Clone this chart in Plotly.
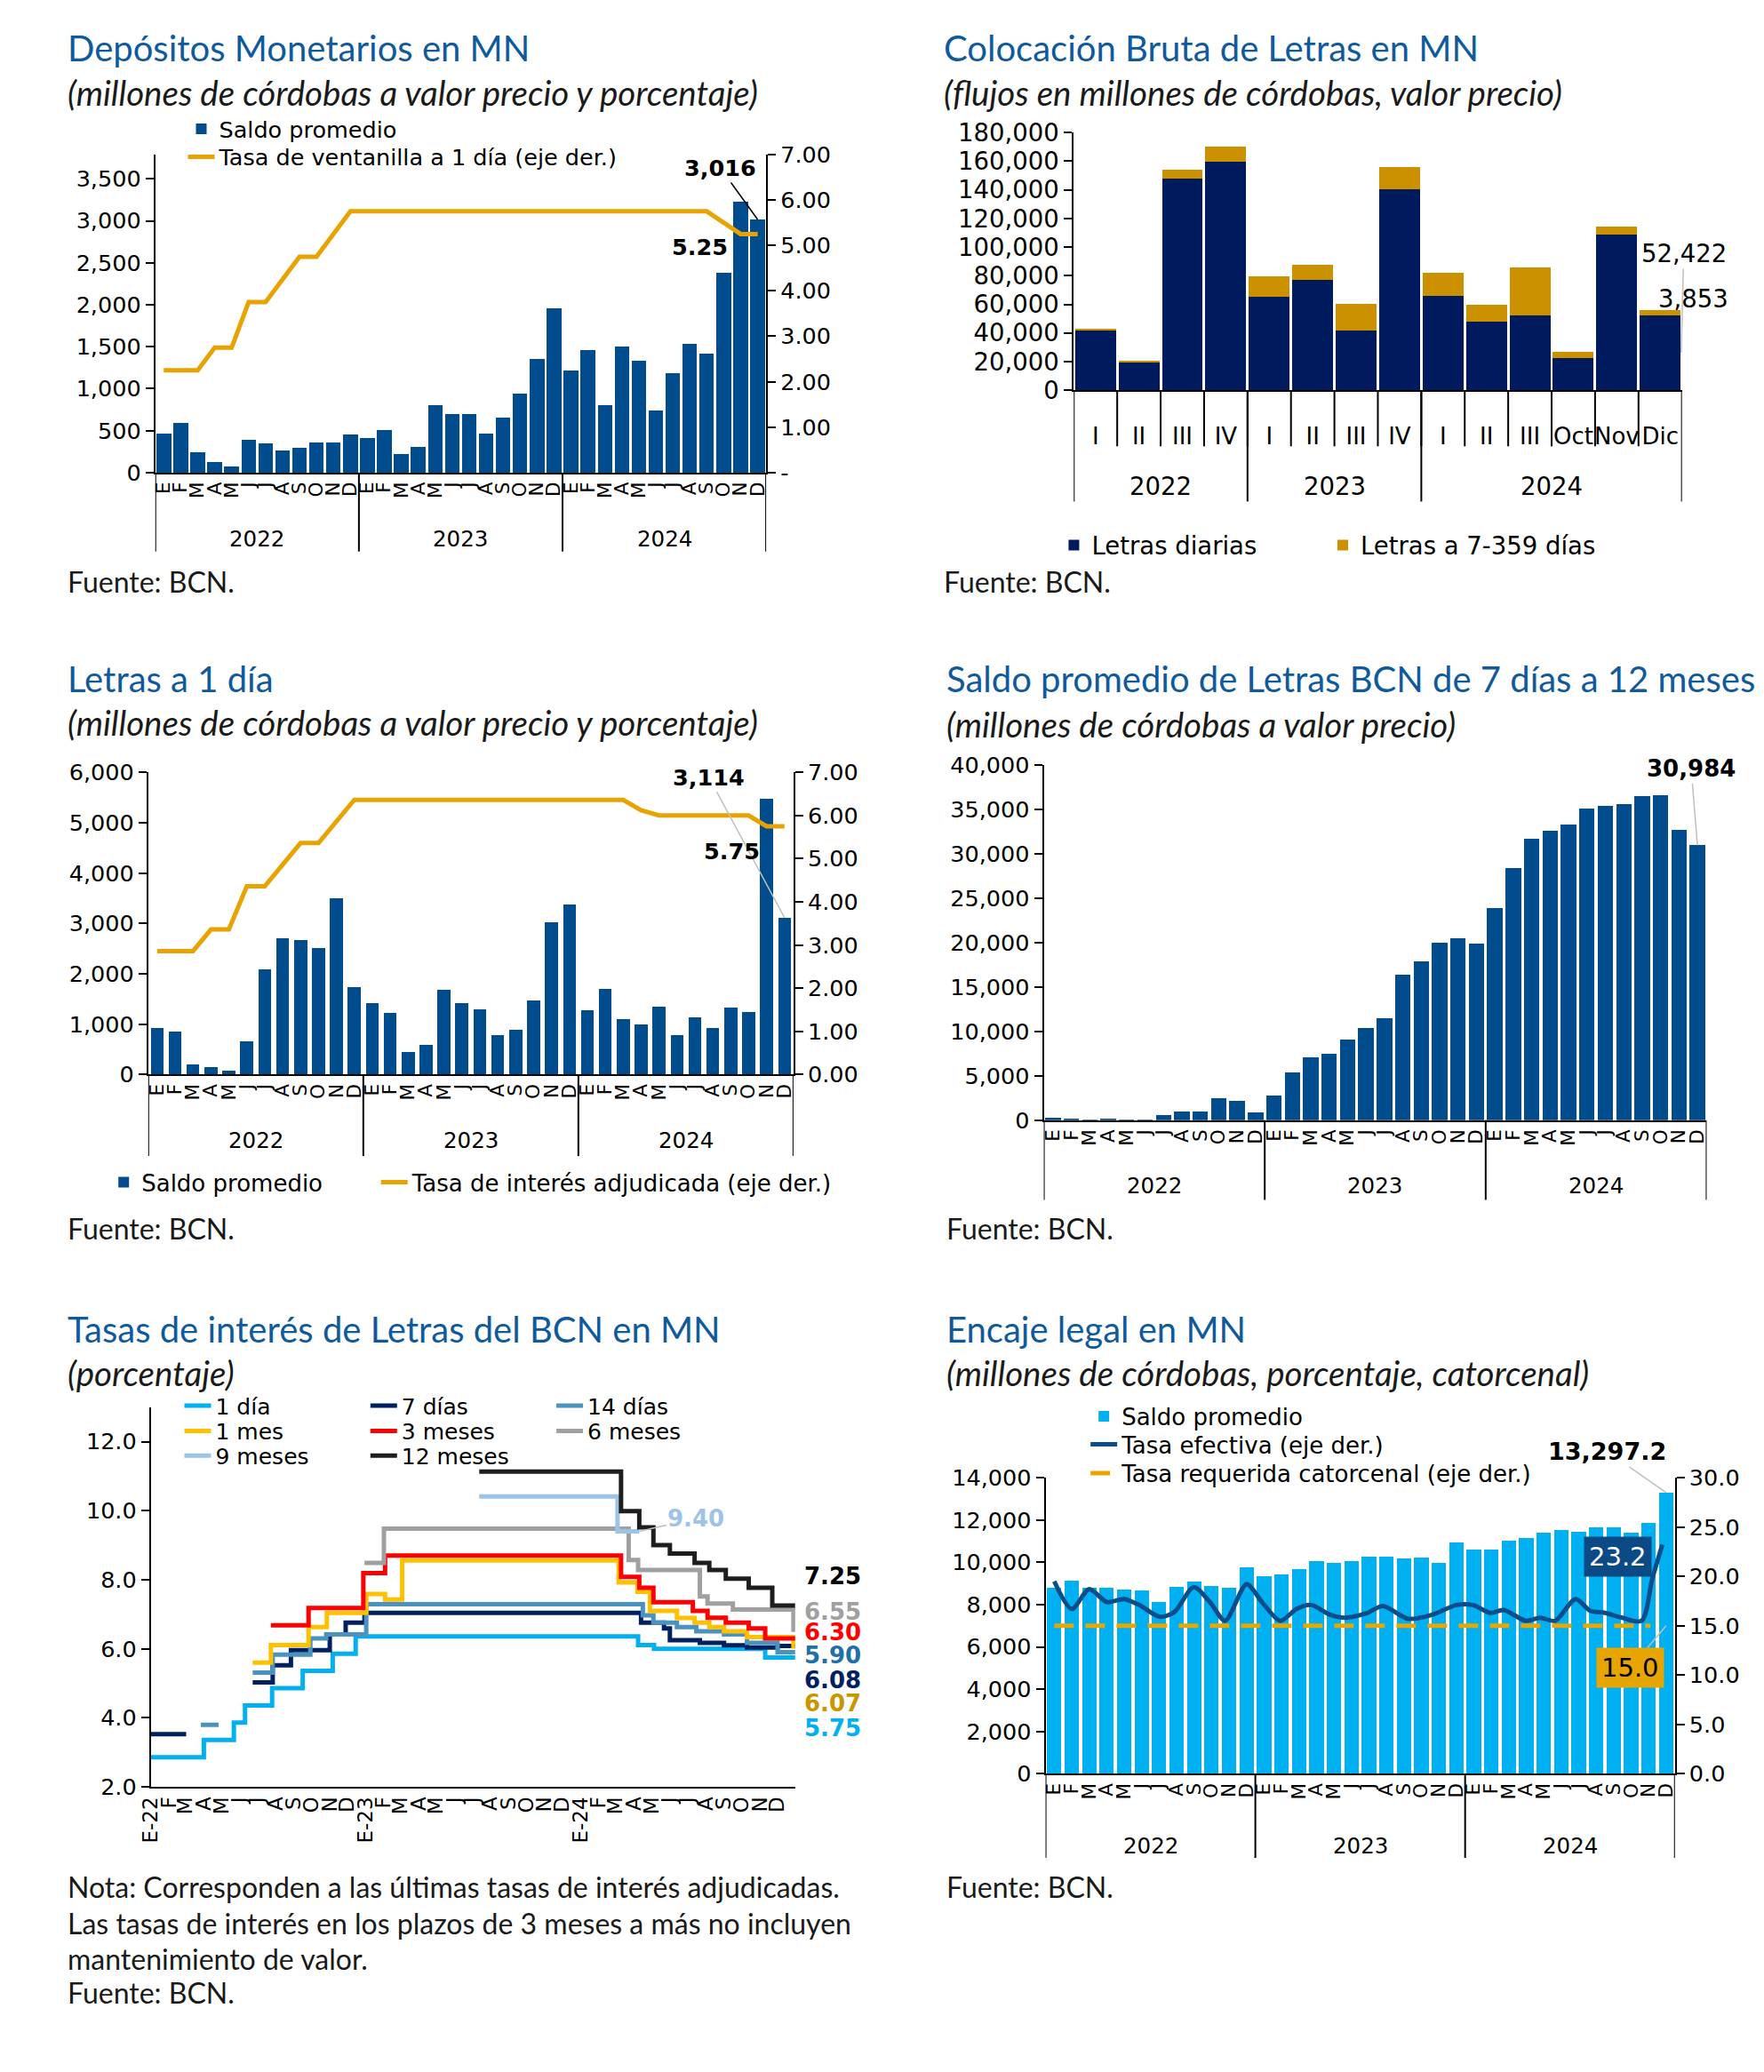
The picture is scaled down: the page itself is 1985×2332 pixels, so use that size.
import plotly.graph_objects as go

# page is 1985x2332; the default page body has an 8px margin
PW, PH, BM = 1985, 2332, 8
FW, FH = PW - 2 * BM, PH - 2 * BM


def X(px):
    return (px - BM) / FW


def Y(py):
    return 1 - (py - BM) / FH


TF = "Lato"          # titles / notes
NF = "DejaVu Sans"   # numbers, legends
TITLE_C = "#0F5A9C"

# ---------------- shared labels
MESES = ["E", "F", "M", "A", "M", "J", "J", "A", "S", "O", "N", "D"]
ANIOS = ["2022", "2023", "2024"]
MES_LBL = MESES * 3
MES_IDX = list(range(36))

# ---------------- Panel 1: Depósitos monetarios
dep_saldo = [469, 592, 239, 124, 75, 393, 345, 265, 292, 354, 354, 455,
             407, 508, 225, 305, 800, 698, 698, 469, 650, 942, 1353, 1958,
             1220, 1463, 800, 1499, 1335, 738, 1185, 1538, 1415, 2383, 3223, 3016]
dep_tasa = [2.25, 2.25, 2.25, 2.75, 2.75, 3.75, 3.75, 4.25, 4.75, 4.75, 5.25, 5.75,
            5.75, 5.75, 5.75, 5.75, 5.75, 5.75, 5.75, 5.75, 5.75, 5.75, 5.75, 5.75,
            5.75, 5.75, 5.75, 5.75, 5.75, 5.75, 5.75, 5.75, 5.75, 5.50, 5.25, 5.25]

# ---------------- Panel 2: Colocación bruta
col_lbl = ["I", "II", "III", "IV", "I", "II", "III", "IV", "I", "II", "III", "Oct", "Nov", "Dic"]
col_grupos = [4, 4, 6]
col_diarias = [41900, 19400, 148100, 159700, 65400, 77300, 41900, 140600,
               66200, 48100, 52200, 22200, 109000, 52422]
col_7_359 = [1300, 1000, 5700, 10600, 14200, 10300, 18600, 15500,
             15800, 11600, 33800, 4400, 5200, 3853]

# ---------------- Panel 3: Letras a 1 día
l1_saldo = [920, 858, 195, 140, 86, 655, 2083, 2699, 2668, 2512, 3495, 1732,
            1420, 1217, 452, 585, 1685, 1420, 1303, 788, 881, 1466, 3019, 3378,
            1271, 1708, 1100, 998, 1349, 788, 1131, 920, 1334, 1248, 5468, 3114]
l1_tasa = [2.86, 2.86, 2.86, 3.36, 3.36, 4.36, 4.36, 4.86, 5.36, 5.36, 5.86, 6.36,
           6.36, 6.36, 6.36, 6.36, 6.36, 6.36, 6.36, 6.36, 6.36, 6.36, 6.36, 6.36,
           6.36, 6.36, 6.36, 6.12, 6.00, 6.00, 6.00, 6.00, 6.00, 6.00, 5.75, 5.75]

# ---------------- Panel 4: Saldo Letras 7 días a 12 meses
l7_saldo = [220, 90, 40, 90, 40, 40, 575, 975, 1000, 2480, 2170, 885,
            2790, 5360, 7040, 7440, 9035, 10360, 11470, 16430, 17890, 19970, 20460, 19885,
            23870, 28390, 31710, 32640, 33300, 35120, 35390, 35650, 36490, 36580, 32730, 30984]

# ---------------- Panel 5: Tasas de interés (step series)
t1d_x = ["2022-01-01", "2022-04-01", "2022-05-22", "2022-06-10", "2022-07-26", "2022-09-16",
         "2022-11-06", "2022-12-15", "2024-04-08", "2024-05-05", "2024-11-10", "2024-12-31"]
t1d_y = [2.86, 3.36, 3.86, 4.36, 4.86, 5.36, 5.86, 6.36, 6.11, 6.00, 5.75, 5.75]

t7d_x = ["2022-01-01", "2022-03-02", None, "2022-06-23", "2022-07-27", "2022-08-27", "2022-11-01",
         "2022-11-28", "2022-12-30", "2024-04-13", "2024-05-22", "2024-06-01", "2024-07-22",
         "2024-09-01", "2024-10-10", "2024-12-01", "2024-12-31"]
t7d_y = [3.53, 3.53, None, 5.03, 5.52, 5.96, 6.42, 6.76, 7.04, 6.76, 6.59, 6.25, 6.17,
         6.10, 6.04, 6.08, 6.08]

t14d_x = ["2022-03-27", "2022-04-26", None, "2022-06-23", "2022-07-27", "2022-09-29", "2022-10-26",
          "2023-01-02", "2024-04-16", "2024-05-04", "2024-06-13", "2024-07-16", "2024-09-01",
          "2024-10-10", "2024-12-01", "2024-12-31"]
t14d_y = [3.80, 3.80, None, 5.31, 5.83, 6.30, 6.42, 7.29, 6.97, 6.76, 6.63, 6.51, 6.42,
          6.17, 5.90, 5.90]

t1m_x = ["2022-06-23", "2022-07-24", "2022-09-26", "2022-10-27", "2023-01-02", "2023-02-03",
         "2023-03-04", "2024-03-06", "2024-04-07", "2024-04-28", "2024-06-13", "2024-07-13",
         "2024-08-07", "2024-09-01", "2024-10-10", "2024-12-28", "2024-12-31"]
t1m_y = [5.60, 6.11, 6.63, 7.04, 7.59, 7.43, 8.56, 7.92, 7.65, 7.10, 6.89, 6.76,
         6.63, 6.51, 6.34, 6.07, 6.07]

t3m_x = ["2022-07-24", "2022-09-26", "2022-12-28", "2023-02-03", "2024-03-10", "2024-04-10",
         "2024-05-04", "2024-07-10", "2024-08-04", "2024-09-04", "2024-10-13", "2024-11-10",
         "2024-12-31"]
t3m_y = [6.68, 7.18, 8.19, 8.70, 8.08, 7.77, 7.35, 7.10, 6.90, 6.76, 6.59, 6.30, 6.30]

t6m_x = ["2022-12-30", "2023-02-01", "2024-03-23", "2024-04-08", "2024-07-22", "2024-08-04",
         "2024-09-16", "2024-12-28", "2024-12-31"]
t6m_y = [8.49, 9.48, 8.57, 8.28, 7.52, 7.31, 7.14, 6.55, 6.55]

t9m_x = ["2023-07-13", "2024-03-04", "2024-04-10"]
t9m_y = [10.41, 9.40, 9.40]

t12m_x = ["2023-07-13", "2024-03-10", "2024-04-10", "2024-05-04", "2024-06-01", "2024-07-13",
          "2024-08-07", "2024-09-04", "2024-10-13", "2024-11-22", "2024-12-31"]
t12m_y = [11.13, 9.99, 9.52, 9.00, 8.76, 8.49, 8.28, 8.03, 7.77, 7.25, 7.25]

tasas_lbl = ["E-22", "F", "M", "A", "M", "J", "J", "A", "S", "O", "N", "D",
             "E-23", "F", "M", "A", "M", "J", "J", "A", "S", "O", "N", "D",
             "E-24", "F", "M", "A", "M", "J", "J", "A", "S", "O", "N", "D"]
tasas_ticks = ["%d-%02d-01" % (y, m) for y in (2022, 2023, 2024) for m in range(1, 13)]

# ---------------- Panel 6: Encaje legal
enc_saldo = [8790, 9150, 8790, 8790, 8720, 8660, 8110, 8830, 9080, 8870, 8790, 9750,
             9340, 9410, 9660, 10070, 9960, 10070, 10280, 10280, 10170, 10220, 9960, 10940,
             10580, 10620, 11040, 11150, 11410, 11520, 11450, 11660, 11660, 11380, 11860, 13297.2]
enc_ef_pos = [0, 1.0, 2.0, 3.0, 4.0, 4.86, 6.04, 6.88, 7.97, 8.9, 9.77, 11.0, 11.92, 12.93,
              13.86, 14.69, 15.79, 16.63, 17.9, 18.8, 20.24, 21.59, 23.0, 23.94, 24.95, 25.7,
              26.97, 27.8, 28.65, 29.82, 30.66, 31.5, 32.5, 33.6, 34.2, 34.78]
enc_ef = [19.5, 16.7, 18.7, 17.4, 17.7, 17.1, 15.9, 16.4, 18.9, 17.4, 15.5, 19.2, 17.3, 15.5,
          16.7, 17.1, 16.1, 15.8, 16.3, 17.0, 15.7, 16.1, 17.1, 17.1, 16.3, 16.6,
          15.5, 15.8, 15.5, 17.7, 16.5, 16.3, 15.8, 15.5, 19.7, 23.2]
enc_req_pos = [0, 34.1]
enc_req = [15.0, 15.0]

# ---------------- colours
C_DEP = "#004C8C"
C_ORG = "#E8A202"
C_NAVY = "#001A5E"
C_GOLD = "#CC9100"
C_CYAN = "#00B0F0"
C_EF = "#0B4C8A"

# ---------------- one legend per entry (exact placement)
LEG = dict(xanchor="left", yanchor="middle", bgcolor="rgba(0,0,0,0)", borderwidth=0,
           orientation="v", itemclick=False, itemdoubleclick=False)
legends = {}


def L(text_x, row_y, size):
    k = len(legends) + 1
    key = "legend" if k == 1 else "legend%d" % k
    legends[key] = dict(LEG, x=X(text_x - 48), y=Y(row_y), font=dict(family=NF, size=size))
    return key


fig = go.Figure()

# Panel 1
fig.add_trace(go.Bar(x=MES_IDX, y=dep_saldo, xaxis="x", yaxis="y", width=0.86,
                     marker=dict(color=C_DEP, line=dict(width=0)),
                     name="Saldo promedio", legend=L(242, 131, 25.5)))
fig.add_trace(go.Scatter(x=MES_IDX, y=dep_tasa, xaxis="x", yaxis="y2", mode="lines",
                         line=dict(color=C_ORG, width=5),
                         name="Tasa de ventanilla a 1 día (eje der.)", legend=L(242, 163, 25.5)))
# Panel 2
col_idx = list(range(len(col_lbl)))
fig.add_trace(go.Bar(x=col_idx, y=col_diarias, xaxis="x2", yaxis="y3", width=0.94,
                     marker=dict(color=C_NAVY, line=dict(width=0)),
                     name="Letras diarias", legend=L(1232, 606, 27.5)))
fig.add_trace(go.Bar(x=col_idx, y=col_7_359, xaxis="x2", yaxis="y3", width=0.94,
                     marker=dict(color=C_GOLD, line=dict(width=0)),
                     name="Letras a 7-359 días", legend=L(1537, 606, 27.5)))
# Panel 3
fig.add_trace(go.Bar(x=MES_IDX, y=l1_saldo, xaxis="x3", yaxis="y4", width=0.72,
                     marker=dict(color=C_DEP, line=dict(width=0)),
                     name="Saldo promedio", legend=L(154, 1333, 26)))
fig.add_trace(go.Scatter(x=MES_IDX, y=l1_tasa, xaxis="x3", yaxis="y5", mode="lines",
                         line=dict(color=C_ORG, width=5),
                         name="Tasa de interés adjudicada (eje der.)", legend=L(461, 1333, 26)))
# Panel 4
fig.add_trace(go.Bar(x=MES_IDX, y=l7_saldo, xaxis="x4", yaxis="y6", width=0.84,
                     marker=dict(color=C_DEP, line=dict(width=0)), showlegend=False))
# Panel 5
series5 = [
    ("1 día", t1d_x, t1d_y, C_CYAN, 238, 1588),
    ("7 días", t7d_x, t7d_y, "#002060", 449, 1588),
    ("14 días", t14d_x, t14d_y, "#4A92C0", 660, 1588),
    ("1 mes", t1m_x, t1m_y, "#FFC000", 238, 1617),
    ("3 meses", t3m_x, t3m_y, "#FF0000", 449, 1617),
    ("6 meses", t6m_x, t6m_y, "#A0A0A0", 660, 1617),
    ("9 meses", t9m_x, t9m_y, "#9DC3E6", 238, 1645),
    ("12 meses", t12m_x, t12m_y, "#1E1E1E", 449, 1645),
]
for name, xs, ys, col, lx, ly in series5:
    fig.add_trace(go.Scatter(x=xs, y=ys, xaxis="x5", yaxis="y7", mode="lines",
                             line=dict(color=col, width=5, shape="hv"),
                             name=name, legend=L(lx, ly, 25)))
# Panel 6
fig.add_trace(go.Bar(x=MES_IDX, y=enc_saldo, xaxis="x6", yaxis="y8", width=0.82,
                     marker=dict(color=C_CYAN, line=dict(width=0)),
                     name="Saldo promedio", legend=L(1266, 1600, 26)))
fig.add_trace(go.Scatter(x=enc_ef_pos, y=enc_ef, xaxis="x6", yaxis="y9", mode="lines",
                         line=dict(color=C_EF, width=5, shape="spline", smoothing=0.8),
                         name="Tasa efectiva (eje der.)", legend=L(1266, 1632, 26)))
fig.add_trace(go.Scatter(x=enc_req_pos, y=enc_req, xaxis="x6", yaxis="y9", mode="lines",
                         line=dict(color="#E8A600", width=5, dash="22px,13px"),
                         name="Tasa requerida catorcenal (eje der.)", legend=L(1266, 1665, 26)))

# ---------------- axes
AX = dict(showgrid=False, zeroline=False, showline=True, linecolor="black", linewidth=2,
          fixedrange=True)
YL = dict(AX, ticks="outside", ticklen=9, tickwidth=1.5, tickcolor="black",
          tickfont=dict(family=NF, size=25.5, color="black"))
XM = dict(AX, ticks="", tickmode="array", tickvals=MES_IDX, ticktext=MES_LBL, tickangle=-90,
          tickfont=dict(family=NF, size=21.5, color="black"), range=[-0.5, 35.5])

fig.update_layout(
    width=FW, height=FH, autosize=False,
    margin=dict(l=0, r=0, t=0, b=0),
    paper_bgcolor="white", plot_bgcolor="white",
    barmode="stack", hovermode=False,
    font=dict(family=NF, color="black"),
    # Panel 1
    xaxis=dict(XM, domain=[X(162), X(855)], anchor="y"),
    yaxis=dict(YL, domain=[Y(523), Y(160)], anchor="x", range=[0, 3790],
               tickvals=[0, 500, 1000, 1500, 2000, 2500, 3000, 3500], tickformat=","),
    yaxis2=dict(YL, overlaying="y", side="right", anchor="x", range=[0, 7],
                tickvals=[0, 1, 2, 3, 4, 5, 6, 7],
                ticktext=["-", "1.00", "2.00", "3.00", "4.00", "5.00", "6.00", "7.00"]),
    # Panel 2
    xaxis2=dict(AX, domain=[X(1204), X(1894)], anchor="y3", range=[-0.5, 13.5],
                tickmode="array", tickvals=col_idx, ticktext=col_lbl, ticks="", tickangle=0,
                tickfont=dict(family=NF, size=26, color="black"), ticklabelstandoff=28),
    yaxis3=dict(YL, domain=[Y(429), Y(135)], anchor="x2", range=[0, 180000], dtick=20000,
                tickformat=",", tickfont=dict(family=NF, size=27.5, color="black")),
    # Panel 3
    xaxis3=dict(XM, domain=[X(154), X(886)], anchor="y4"),
    yaxis4=dict(YL, domain=[Y(1210), Y(865)], anchor="x3", range=[0, 6000], dtick=1000,
                tickformat=","),
    yaxis5=dict(YL, overlaying="y4", side="right", anchor="x3", range=[0, 7], dtick=1,
                tickformat=".2f"),
    # Panel 4
    xaxis4=dict(XM, domain=[X(1170), X(1922)], anchor="y6"),
    yaxis6=dict(YL, domain=[Y(1262), Y(857)], anchor="x4", range=[0, 40000], dtick=5000,
                tickformat=","),
    # Panel 5
    xaxis5=dict(AX, domain=[X(157), X(888)], anchor="y7", type="date",
                range=["2022-01-01", "2024-12-31"], tickmode="array", tickvals=tasas_ticks,
                ticktext=tasas_lbl, tickangle=-90, ticks="",
                tickfont=dict(family=NF, size=23, color="black")),
    yaxis7=dict(YL, domain=[Y(2023), Y(1589.5)], anchor="x5", range=[2, 13],
                tickvals=[2, 4, 6, 8, 10, 12], tickformat=".1f"),
    # Panel 6
    xaxis6=dict(XM, domain=[X(1172), X(1886)], anchor="y8"),
    yaxis8=dict(YL, domain=[Y(2008), Y(1670)], anchor="x6", range=[0, 14000], dtick=2000,
                tickformat=","),
    yaxis9=dict(YL, overlaying="y8", side="right", anchor="x6", range=[0, 30], dtick=5,
                tickformat=".1f"),
)
fig.update_layout(**legends)

ann = []
shapes = []


def txt(px, py, text, size, color="black", family=TF, xanchor="left"):
    ann.append(dict(x=X(px), y=Y(py), xref="paper", yref="paper", text=text, showarrow=False,
                    xanchor=xanchor, yanchor="middle",
                    font=dict(family=family, size=size, color=color)))


# titles, subtitles, sources
for px, py, t in [(60, 38, "Depósitos Monetarios en MN"),
                  (1054, 38, "Colocación Bruta de Letras en MN"),
                  (60, 758, "Letras a 1 día"),
                  (1058, 758, "Saldo promedio de Letras BCN de 7 días a 12 meses"),
                  (60, 1501, "Tasas de interés de Letras del BCN en MN"),
                  (1058, 1501, "Encaje legal en MN")]:
    txt(px, py, t, 40, TITLE_C)
for px, py, t in [(60, 89, "(millones de córdobas a valor precio y porcentaje)"),
                  (1054, 89, "(flujos en millones de córdobas, valor precio)"),
                  (60, 808, "(millones de córdobas a valor precio y porcentaje)"),
                  (1058, 810, "(millones de córdobas a valor precio)"),
                  (60, 1550, "(porcentaje)"),
                  (1058, 1550, "(millones de córdobas, porcentaje, catorcenal)")]:
    txt(px, py, "<i>" + t + "</i>", 38.5, "#1a1a1a")
for px, py in [(60, 647), (1054, 647), (60, 1386), (1058, 1386), (60, 2258), (1058, 2137)]:
    txt(px, py, "Fuente: BCN.", 32, "#1a1a1a")
for py, t in [(2137, "Nota: Corresponden a las últimas tasas de interés adjudicadas."),
              (2178, "Las tasas de interés en los plazos de 3 meses a más no incluyen"),
              (2219, "mantenimiento de valor.")]:
    txt(60, py, t, 32, "#1a1a1a")


# year group labels and separators
def years_axis(xref, zero_py, lbl_py, bot_py, sizes, labels, fsize=24.5):
    b = -0.5
    shapes.append(dict(type="line", xref=xref, yref="paper", x0=b, x1=b,
                       y0=Y(zero_py), y1=Y(bot_py), line=dict(color="black", width=2)))
    for n, lab_ in zip(sizes, labels):
        ann.append(dict(x=b + n / 2, y=Y(lbl_py), xref=xref, yref="paper", text=lab_,
                        showarrow=False, xanchor="center", yanchor="middle",
                        font=dict(family=NF, size=fsize, color="black")))
        b += n
        shapes.append(dict(type="line", xref=xref, yref="paper", x0=b, x1=b,
                           y0=Y(zero_py), y1=Y(bot_py), line=dict(color="black", width=2)))


years_axis("x", 523, 599, 613, [12, 12, 12], ANIOS)
years_axis("x3", 1210, 1285, 1303, [12, 12, 12], ANIOS)
years_axis("x4", 1262, 1337, 1353, [12, 12, 12], ANIOS)
years_axis("x6", 2008, 2090, 2104, [12, 12, 12], ANIOS)
years_axis("x2", 429, 538, 556, col_grupos, ANIOS, fsize=27.5)
for k in range(1, len(col_lbl)):
    shapes.append(dict(type="line", xref="x2", yref="paper", x0=k - 0.5, x1=k - 0.5,
                       y0=Y(429), y1=Y(493), line=dict(color="black", width=2)))

GREY = "#BFBFBF"


def lab(x, y, xref, yref, text, size, color="black", ax=None, ay=None, xshift=0, yshift=0,
        acolor="black", bg=None, pad=1):
    d = dict(x=x, y=y, xref=xref, yref=yref, text=text, xanchor="center", yanchor="middle",
             font=dict(family=NF, size=size, color=color), xshift=xshift, yshift=yshift,
             borderpad=pad)
    if bg:
        d["bgcolor"] = bg
    if ax is not None:
        d.update(showarrow=True, ax=ax, ay=ay, arrowhead=0, arrowwidth=1.5, arrowcolor=acolor,
                 axref="pixel", ayref="pixel")
    else:
        d["showarrow"] = False
    ann.append(d)


# Panel 1 labels
lab(35, dep_saldo[-1], "x", "y", "<b>3,016</b>", 25.5, ax=-42, ay=-58)
lab(35, dep_tasa[-1], "x", "y2", "<b>5.25</b>", 25.5, xshift=-65, yshift=-15)
# Panel 2 labels
lab(13.48, col_diarias[-1] / 2, "x2", "y3", "52,422", 27.5, ax=3, ay=-112, acolor=GREY)
lab(13.48, col_diarias[-1] + col_7_359[-1] / 2, "x2", "y3", "3,853", 27.5, ax=14, ay=-16,
    acolor=GREY)
# Panel 3 labels
lab(35, l1_saldo[-1], "x3", "y4", "<b>3,114</b>", 25.5, ax=-85, ay=-158, acolor=GREY)
lab(35, l1_tasa[-1], "x3", "y5", "<b>5.75</b>", 25.5, xshift=-59, yshift=-28)
# Panel 4 label
lab(35, l7_saldo[-1], "x4", "y6", "<b>30,984</b>", 26, ax=-7, ay=-86, acolor=GREY)
# Panel 5 labels
lab(t9m_x[-1], t9m_y[-1], "x5", "y7", "<b>9.40</b>", 26, "#9DC3E6", ax=64, ay=-15, acolor=GREY)
for py, t, c in [(1783, "7.25", "black"), (1823, "6.55", "#A0A0A0"), (1846, "6.30", "#FF0000"),
                 (1873, "5.90", "#1F6FA8"), (1901, "6.08", "#002060"), (1928, "6.07", "#C89600"),
                 (1956, "5.75", C_CYAN)]:
    txt(930, py, "<b>" + t + "</b>", 26, c, NF, "center")
# Panel 6 labels
lab(35, enc_saldo[-1], "x6", "y8", "<b>13,297.2</b>", 27, ax=-66, ay=-46, acolor=GREY)
lab(enc_ef_pos[-1], enc_ef[-1], "x6", "y9", "23.2", 29, "white", xshift=-50, yshift=-13,
    bg="#0B4A85", pad=5)
lab(35, enc_req[-1], "x6", "y9", "15.0", 29, "black", ax=-40, ay=47, acolor=GREY,
    bg="#E6A500", pad=5)

fig.update_layout(annotations=ann, shapes=shapes)
fig.write_html("out.html")
